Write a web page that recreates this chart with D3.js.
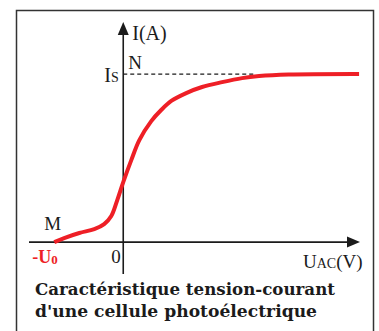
<!DOCTYPE html>
<html>
<head>
<meta charset="utf-8">
<script src="https://cdn.jsdelivr.net/npm/d3@7"></script>
<style>
  html, body { margin: 0; padding: 0; background: #fff; }
  svg { display: block; }
</style>
</head>
<body>
<svg id="chart" width="379" height="331"></svg>
<script>
// Photoelectric cell: current I (arbitrary units, saturation Is = 10) vs voltage UAC
const voltage = [-3, -2.57, -1.91, -1.26, -0.83, -0.52, -0.26, 0, 0.35, 0.7, 1.22, 1.65, 2.09, 2.74, 3.43, 4.3, 5.17, 5.91, 7.2, 10.26];
const current = [0, 0.24, 0.54, 0.77, 1.07, 1.55, 2.5, 3.57, 4.88, 6.07, 7.2, 7.86, 8.4, 8.87, 9.23, 9.52, 9.76, 9.88, 9.97, 10];
const stoppingVoltage = -3;   // -U0
const saturationCurrent = 10; // Is
const saturationStart = 5.7;  // end of the dashed Is guide
const xDomain = [-4.1, 10.3];
const yDomain = [-1.9, 13.1];
const titleLines = ["Caractéristique tension-courant", "d'une cellule photoélectrique"];

const svg = d3.select("#chart");
const ink = "#1b1b1b";
const red = "#ee1f26";
const serif = "'Liberation Serif', 'DejaVu Serif', serif";

const x = d3.scaleLinear().domain(xDomain).range([29, 360]);
const y = d3.scaleLinear().domain(yDomain).range([274, 22]);

// frame
svg.append("rect")
  .attr("x", 16.5).attr("y", 10.5)
  .attr("width", 357).attr("height", 340)
  .attr("fill", "none").attr("stroke", "#333").attr("stroke-width", 1.5);

// axes
svg.append("line")
  .attr("x1", x(xDomain[0])).attr("x2", x(xDomain[1]) - 8)
  .attr("y1", y(0)).attr("y2", y(0))
  .attr("stroke", ink).attr("stroke-width", 1.6);
svg.append("line")
  .attr("x1", x(0)).attr("x2", x(0))
  .attr("y1", y(yDomain[0])).attr("y2", y(yDomain[1]) + 8)
  .attr("stroke", ink).attr("stroke-width", 1.6);

// arrow heads
const xt = [x(xDomain[1]), y(0)];
svg.append("path")
  .attr("d", `M${xt[0]},${xt[1]} L${xt[0] - 13},${xt[1] - 5.5} L${xt[0] - 13},${xt[1] + 5.5} Z`)
  .attr("fill", ink);
const yt = [x(0), y(yDomain[1])];
svg.append("path")
  .attr("d", `M${yt[0]},${yt[1]} L${yt[0] - 5.5},${yt[1] + 13} L${yt[0] + 5.5},${yt[1] + 13} Z`)
  .attr("fill", ink);

// dashed saturation guide
svg.append("line")
  .attr("x1", x(0)).attr("x2", x(saturationStart))
  .attr("y1", y(saturationCurrent)).attr("y2", y(saturationCurrent))
  .attr("stroke", ink).attr("stroke-width", 1.2)
  .attr("stroke-dasharray", "4,3");

// characteristic curve
const line = d3.line()
  .x((d, i) => x(voltage[i]))
  .y(d => y(d))
  .curve(d3.curveCatmullRom.alpha(0.5));
svg.append("path")
  .datum(current)
  .attr("d", line)
  .attr("fill", "none")
  .attr("stroke", red)
  .attr("stroke-width", 4)
  .attr("stroke-linecap", "butt");

// labels
const label = (tx, ty, size) => svg.append("text")
  .attr("x", tx).attr("y", ty)
  .attr("font-family", serif).attr("font-size", size)
  .attr("fill", ink);

label(x(0) + 9, y(yDomain[1]) + 18, 20).text("I(A)");
label(x(0) + 5, y(saturationCurrent) - 5, 19).text("N");

const isLab = label(x(0) - 19, y(saturationCurrent) + 8, 20);
isLab.append("tspan").text("I");
isLab.append("tspan").attr("font-size", 14).text("S");

label(x(stoppingVoltage) - 10, y(0) - 12, 19).text("M");

const u0 = svg.append("text")
  .attr("x", x(stoppingVoltage) - 22).attr("y", y(0) + 21)
  .attr("font-family", serif).attr("font-size", 18)
  .attr("font-weight", "bold").attr("fill", red);
u0.append("tspan").text("-U");
u0.append("tspan").attr("font-size", 13).attr("dy", 1).text("0");

label(x(0) - 12, y(0) + 21, 19).text("0");

const uac = label(303, 268, 19);
uac.append("tspan").text("U");
uac.append("tspan").attr("font-size", 14).text("AC");
uac.append("tspan").text("(V)");

// title
const titleLengths = [300, 282];
titleLines.forEach((t, i) => {
  svg.append("text")
    .attr("x", 35).attr("y", 295 + i * 22)
    .attr("font-family", "'DejaVu Serif', serif")
    .attr("font-weight", "bold").attr("font-size", 17)
    .attr("fill", ink)
    .attr("textLength", titleLengths[i])
    .attr("lengthAdjust", "spacingAndGlyphs")
    .text(t);
});
</script>
</body>
</html>
